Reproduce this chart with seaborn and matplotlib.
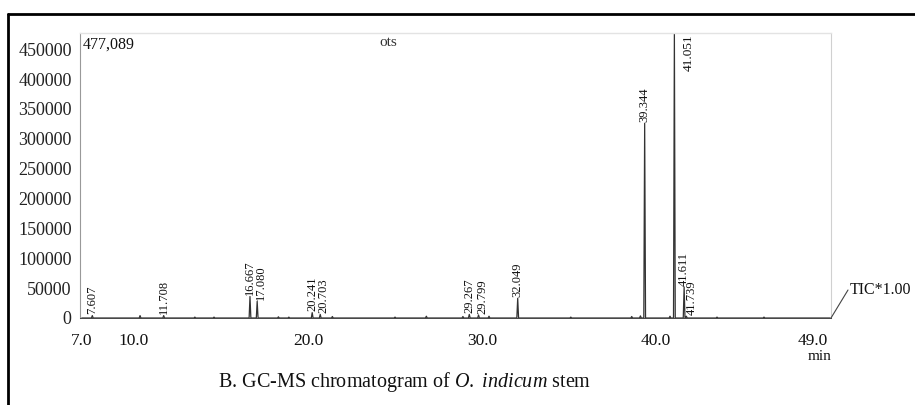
import numpy as np
import pandas as pd
import matplotlib.pyplot as plt
from matplotlib.lines import Line2D
from matplotlib.ticker import MultipleLocator, FixedLocator
import seaborn as sns

# GC-MS chromatogram, O. indicum stem

# labelled peaks: retention time (min), label, intensity
peak_times = [7.607, 11.708, 16.667, 17.080, 20.241, 20.703, 29.267, 29.799,
              32.049, 39.344, 41.051, 41.611, 41.739]
peak_labels = ["7.607", "11.708", "16.667", "17.080", "20.241", "20.703", "29.267",
               "29.799", "32.049", "39.344", "41.051", "41.611", "41.739"]
peak_heights = [4000, 4000, 36000, 28000, 9000, 6000, 6000, 5000,
                33000, 326000, 477089, 52000, 3000]

# small unlabelled bumps on the baseline
minor_times = [10.35, 13.5, 14.6, 18.3, 18.9, 21.4, 25.0, 26.8, 28.9, 30.4,
               35.1, 38.6, 39.1, 40.8, 43.5, 46.2]
minor_heights = [4000, 1500, 1500, 2000, 1500, 2500, 1500, 3000, 2500, 3000,
                 1500, 2500, 3500, 3000, 1500, 1500]

x_ticks = [7.0, 10.0, 20.0, 30.0, 40.0, 49.0]
y_ticks = list(range(0, 450001, 50000))
y_max = 477089

# build the trace: each peak is baseline -> apex -> baseline
half_width = 0.05
rows = [(7.0, 0), (50.0, 0)]
for t, h in zip(peak_times + minor_times, peak_heights + minor_heights):
    rows += [(t - half_width, 0), (t, h), (t + half_width, 0)]
trace = pd.DataFrame(rows, columns=["time", "intensity"]).sort_values("time")

sns.set_theme(style="white")
plt.rcParams['font.family'] = ['Liberation Serif', 'DejaVu Serif']
plt.rcParams['mathtext.fontset'] = 'custom'
plt.rcParams['mathtext.rm'] = 'Liberation Serif'
plt.rcParams['mathtext.it'] = 'Liberation Serif:italic'

W, H = 915, 405
fig = plt.figure(figsize=(W / 100, H / 100), dpi=100)
fig.patch.set_facecolor('white')


def fx(px):
    return px / W


def fy(py):
    return 1 - py / H


ax = fig.add_axes([fx(80), fy(318), fx(831) - fx(80), fy(33) - fy(318)])
ax.set_facecolor('white')

sns.lineplot(data=trace, x="time", y="intensity", ax=ax, estimator=None,
             sort=False, color="#333333", lw=0.9)

ax.set_xlim(6.9, 50.05)
ax.set_ylim(0, y_max)
ax.set_xlabel("")
ax.set_ylabel("")

ax.xaxis.set_major_locator(FixedLocator(x_ticks))
ax.set_xticklabels([f"{v:.1f}" for v in x_ticks])
ax.xaxis.set_minor_locator(MultipleLocator(1))
ax.yaxis.set_major_locator(FixedLocator(y_ticks))
ax.set_yticklabels([str(v) for v in y_ticks])
ax.yaxis.set_minor_locator(MultipleLocator(10000))

ax.tick_params(axis='y', which='major', direction='out', length=4, width=0.8,
               colors='#222222', labelsize=13, pad=2)
ax.tick_params(axis='y', which='minor', direction='in', length=2, width=0.6, colors='#555555')
ax.tick_params(axis='x', which='major', direction='inout', length=5, width=0.7,
               colors='#444444', labelcolor='#111111', labelsize=12.5, pad=8)
ax.tick_params(axis='x', which='minor', direction='inout', length=3, width=0.5, colors='#666666')

ax.spines['left'].set_color('#999999')
ax.spines['left'].set_linewidth(0.8)
ax.spines['bottom'].set_color('#444444')
ax.spines['bottom'].set_linewidth(0.7)
ax.spines['top'].set_color('#e3e3e3')
ax.spines['right'].set_color('#d0d0d0')
ax.spines['top'].set_linewidth(1.0)
ax.spines['right'].set_linewidth(0.8)

# peak labels, rotated, sitting on the apex; the second of a close pair nudged right
nudge = {"17.080": 0.22, "20.703": 0.2, "29.799": 0.22, "41.739": 0.3}
for t, lab, h in zip(peak_times, peak_labels, peak_heights):
    if h >= y_max:
        ax.text(t + 0.85, y_max - 3000, lab, rotation=90, ha='center', va='top',
                fontsize=9.5, color='#111111')
    else:
        ax.text(t + nudge.get(lab, 0), h + 2000, lab, rotation=90, ha='center',
                va='bottom', fontsize=9, color='#111111')

# annotations in figure pixels
fig.text(fx(83), fy(45), "477,089", fontsize=11.5, ha='left', va='center', color='#111111')
fig.text(fx(388), fy(42), "ots", fontsize=11, ha='center', va='center', color='#333333')
fig.text(fx(832), fy(357), "min", fontsize=11, ha='right', va='center', color='#111111')
fig.text(fx(850), fy(290), "TIC*1.00", fontsize=11.5, ha='left', va='center', color='#111111')
fig.add_artist(Line2D([fx(831), fx(848)], [fy(318), fy(290)], color='#444444', lw=0.8))

fig.text(fx(405), fy(382), r"B. GC-MS chromatogram of $\it{O.\ indicum}$ stem",
         fontsize=14.5, ha='center', va='center', color='#111111')

# outer frame (left and top edges visible in the crop)
fig.add_artist(Line2D([fx(8), fx(8)], [fy(14), fy(410)], color='black', lw=2))
fig.add_artist(Line2D([fx(8), fx(920)], [fy(14), fy(14)], color='black', lw=2))

fig.savefig("out.png", dpi=100, facecolor='white')
